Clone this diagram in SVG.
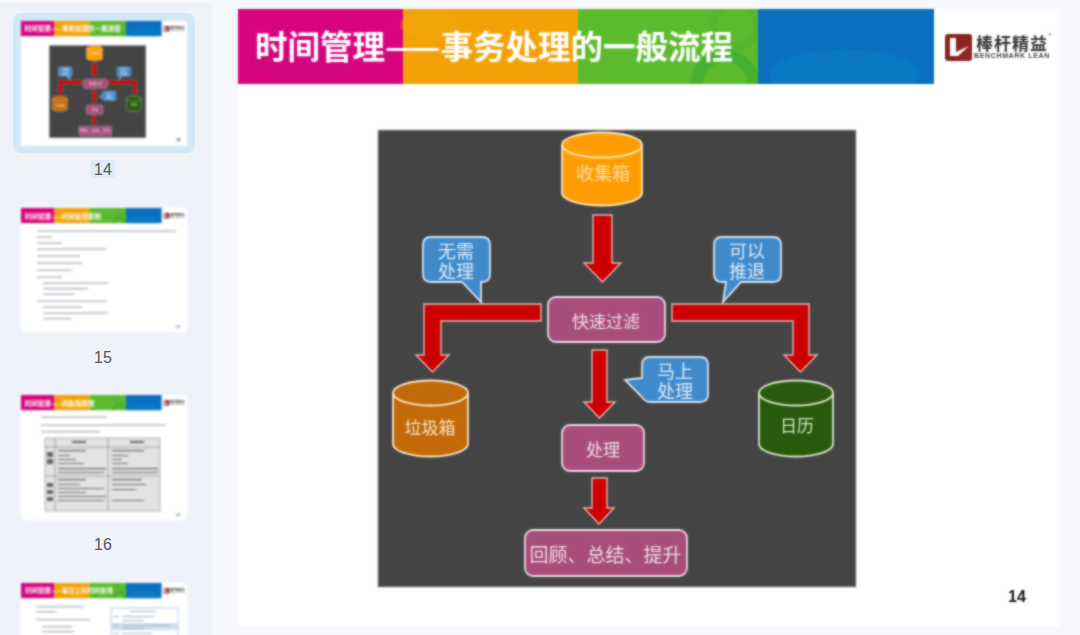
<svg xmlns="http://www.w3.org/2000/svg" width="1080" height="635" viewBox="0 0 1080 635">
<style>
text{font-family:"Noto Sans CJK SC","Noto Sans",sans-serif;text-anchor:middle;dominant-baseline:central}
.arrow{fill:#cc0000;stroke:#e6b4b4;stroke-width:1.4}
.box{fill:#a84c7c;stroke:#ead8e2;stroke-width:1.8}
.bub{fill:#3f8acb;stroke:#d6e4f0;stroke-width:1.8}
.nt{font-size:17px;fill:#efdde7}
.bt{font-size:18px;fill:#dfecf8}
.num{font-family:"Liberation Sans",Arial,sans-serif;font-size:16px;fill:#555}
.bar{fill:#a9adb6}
.ttl{fill:#fff;font-weight:700}
.sl{fill:#fff}
</style>
<defs>
<filter id="b1" x="-5%" y="-5%" width="110%" height="110%" color-interpolation-filters="sRGB"><feGaussianBlur in="SourceGraphic" stdDeviation="0.8" result="bl"/><feComposite in="bl" in2="SourceGraphic" operator="arithmetic" k1="0" k2="0.7" k3="0.3" k4="0"/></filter>
<filter id="b2" x="-5%" y="-5%" width="110%" height="110%" color-interpolation-filters="sRGB"><feGaussianBlur stdDeviation="0.8"/></filter>
<clipPath id="gc"><rect x="578" y="9" width="180" height="75"/></clipPath>
<clipPath id="bc"><rect x="758" y="9" width="176" height="75"/></clipPath>
<g id="hdr">
<rect x="238" y="9" width="165" height="75" fill="#d8047f"/>
<ellipse cx="300" cy="62" rx="50" ry="18" fill="#c9057d" opacity=".5"/>
<rect x="403" y="9" width="175" height="75" fill="#f2a206"/>
<ellipse cx="430" cy="25" rx="30" ry="14" fill="#f4a80c" opacity=".3"/>
<rect x="578" y="9" width="180" height="75" fill="#5cba2d"/>
<g clip-path="url(#gc)"><circle cx="735" cy="25" r="22" fill="none" stroke="#55b52d" stroke-width="9"/><circle cx="725" cy="84" r="28" fill="none" stroke="#45b032" stroke-width="12"/></g>
<rect x="758" y="9" width="176" height="75" fill="#0b6fc0"/>
<g clip-path="url(#bc)"><ellipse cx="845" cy="75" rx="75" ry="26" fill="#0a7cc4" opacity=".7"/></g>
</g>
<g id="logo">
<rect x="945" y="34" width="27" height="27" rx="3" fill="#8c2321"/>
<path d="M950 38H956V52L969 46L958 56H950Z" fill="#fff"/>
<text x="1012" y="42" style="font-size:17px;font-weight:700;letter-spacing:1px" fill="#333">棒杆精益</text>
<text x="1012" y="55.500" style="font-family:'Liberation Sans',sans-serif;font-size:7px;font-weight:700;letter-spacing:.65px" fill="#444">BENCHMARK LEAN</text>
<text x="1050" y="35" style="font-size:6px" fill="#666">®</text>
</g>
<g id="slide">
<rect class="sl" x="238" y="9" width="822" height="617"/>
<use href="#hdr"/>
<text class="ttl" x="494" y="44" style="font-size:32.500px">时间管理——事务处理的一般流程</text>
<use href="#logo"/>
<rect id="panel" x="378" y="130" width="478" height="457" fill="#444" stroke="#a9a9a9" stroke-width="1"/>
<g id="connectors">
<path class="arrow" d="M593 215H612V263H621L602.500 282L584 263H593Z"/>
<path class="arrow" d="M541 304H424V355H416L432.500 372L449 355H441V321H541Z"/>
<path class="arrow" d="M672 304H809V355H817L800.500 372L784 355H793V321H672Z"/>
<path class="arrow" d="M592 350H607V402H615L599.500 418L584 402H592Z"/>
<path class="arrow" d="M592 478H607V508H614L599 524L584 508H592Z"/>
</g>
<g id="node-inbox">
<path d="M562 145A40 12.500 0 0 1 642 145V193A40 12.500 0 0 1 562 193Z" fill="#ff9d00" stroke="#ffe8c2" stroke-width="1.800"/>
<path d="M562 145A40 12.500 0 0 0 642 145" fill="none" stroke="#ffe8c2" stroke-width="1.800"/>
<text x="603" y="172" style="font-size:18px;fill:#ffdca6">收集箱</text>
</g>
<g id="node-filter">
<rect class="box" x="548" y="297" width="117" height="45" rx="8"/>
<text class="nt" x="606" y="320">快速过滤</text>
</g>
<g id="node-trash">
<path d="M393 393A37.500 12.500 0 0 1 468 393V444A37.500 12.500 0 0 1 393 444Z" fill="#c26a08" stroke="#f6e6d0" stroke-width="1.800"/>
<path d="M393 393A37.500 12.500 0 0 0 468 393" fill="none" stroke="#f6e6d0" stroke-width="1.800"/>
<text x="430" y="426" style="font-size:17px;fill:#f7e4ca">垃圾箱</text>
</g>
<g id="node-calendar">
<path d="M759 393A37 12.500 0 0 1 833 393V444A37 12.500 0 0 1 759 444Z" fill="#275a0c" stroke="#d9e7ca" stroke-width="1.800"/>
<path d="M759 393A37 12.500 0 0 0 833 393" fill="none" stroke="#d9e7ca" stroke-width="1.800"/>
<text x="797" y="424" style="font-size:17px;fill:#d8e6ca">日历</text>
</g>
<g id="node-process">
<rect class="box" x="562" y="425" width="82" height="46" rx="8"/>
<text class="nt" x="603" y="448">处理</text>
</g>
<g id="node-review">
<rect class="box" x="525" y="530" width="162" height="46" rx="8"/>
<text class="nt" x="605.500" y="553" style="font-size:19px">回顾、总结、提升</text>
</g>
<g id="bubble-skip">
<path class="bub" d="M431 237H482Q490 237 490 245V274Q490 282 482 282H481V302L462 282H431Q423 282 423 274V245Q423 237 431 237Z"/>
<text class="bt" x="456" y="250">无需</text><text class="bt" x="456" y="270">处理</text>
</g>
<g id="bubble-defer">
<path class="bub" d="M722 237H773Q781 237 781 245V274Q781 282 773 282H741L723 302L726 282H722Q714 282 714 274V245Q714 237 722 237Z"/>
<text class="bt" x="747" y="250">可以</text><text class="bt" x="747" y="270">推退</text>
</g>
<g id="bubble-now">
<path class="bub" d="M650 357H700Q708 357 708 365V394Q708 402 700 402H650Q645 402 641 396L625 380L642 378V365Q642 357 650 357Z"/>
<text class="bt" x="675" y="370">马上</text><text class="bt" x="675" y="390">处理</text>
</g>
<text x="1017" y="596" style="font-family:'Liberation Sans',sans-serif;font-size:16px;font-weight:700" fill="#111">14</text>
</g>
</defs>
<rect id="bg" width="1080" height="635" fill="#f6f8fc"/>
<rect id="sidebar" width="212" height="635" fill="#eff3f9"/>
<rect x="0" y="0" width="212" height="3" fill="#f8f9fb"/>
<g id="main" filter="url(#b1)"><use href="#slide"/></g>
<g id="thumbs">
<rect x="13" y="13" width="182" height="140" rx="8" fill="#d2e8f6"/>
<rect x="91" y="160" width="24" height="18" rx="2" fill="#dfeaf6"/>
<text class="num" x="103" y="169">14</text>
<text class="num" x="103" y="357">15</text>
<text class="num" x="103" y="544">16</text>
<g id="thumb-14" filter="url(#b2)">
<use href="#slide" transform="translate(21 21) scale(.202) translate(-238 -9)"/>
</g>
<g id="thumb-15" filter="url(#b2)">
<rect class="sl" x="21" y="208" width="166" height="124" rx="4"/>
<use href="#hdr" transform="translate(21 208) scale(.202) translate(-238 -9)"/>
<use href="#logo" transform="translate(21 208) scale(.202) translate(-238 -9)"/>
<text class="ttl" x="63" y="215.500" style="font-size:6.500px">时间管理——时间安排原则</text>
<path class="bar" d="M37 230.500h139v1.200H37zM37 236.500h15v1.200H37zM37 242.500h25v1.200H37zM37 248.500h69v1.200H37zM37 255.500h43v1.200H37zM37 262.500h45v1.200H37zM37 269.500h35v1.200H37zM37 276.500h25v1.200H37zM43 282.500h65v1.200H43zM43 288h45v1.200H43zM43 293.500h31v1.200H43zM37 300.500h70v1.200H37zM43 306.500h39v1.200H43zM43 312.500h65v1.200H43zM43 318h28v1.200H43z"/>
<text x="178" y="326" style="font-size:3.500px" fill="#333">15</text>
</g>
<g id="thumb-16" filter="url(#b2)">
<rect class="sl" x="21" y="395" width="166" height="125" rx="4"/>
<use href="#hdr" transform="translate(21 395) scale(.202) translate(-238 -9)"/>
<use href="#logo" transform="translate(21 395) scale(.202) translate(-238 -9)"/>
<text class="ttl" x="59.500" y="402.500" style="font-size:6.500px">时间管理——四象限原理</text>
<path class="bar" d="M41 416.500h66v1.200H41zM41 424.500h125v1.200H41zM41 431h59v1.200H41z"/>
<rect x="45" y="438" width="115" height="73" fill="#e3e3e3" stroke="#8a8a8a" stroke-width=".6"/>
<path d="M55 438V511M108 438V511M45 447H160M45 476H160" stroke="#777" stroke-width=".6" fill="none"/>
<path d="M58 450h28v1.300H58zM58 455h12v1H58zM58 459h18v1H58zM58 463h26v1H58zM58 468h48v1.300H58zM58 472h46v1H58zM112 450h32v1.300h-32zM112 455h16v1h-16zM112 459h10v1h-10zM112 463h16v1h-16zM112 468h46v1.300h-46zM112 472h46v1h-46zM58 479h28v1.300H58zM58 484h22v1H58zM58 488h46v1H58zM58 492h28v1H58zM58 496h48v1H58zM58 500h46v1H58zM112 479h30v1.300h-30zM112 484h34v1h-34zM112 489h24v1h-24zM112 500h32v1h-32zM47 452h6v5h-6zM47 459h6v5h-6zM47 483h6v4h-6zM47 490h6v4h-6zM47 497h6v4h-6zM72 441h14v2H72zM130 441h14v2h-14z" fill="#666"/>
<text x="178" y="514" style="font-size:3.500px" fill="#333">16</text>
</g>
<g id="thumb-17" filter="url(#b2)">
<rect class="sl" x="21" y="583" width="166" height="60" rx="4"/>
<use href="#hdr" transform="translate(21 583) scale(.202) translate(-238 -9)"/>
<use href="#logo" transform="translate(21 583) scale(.202) translate(-238 -9)"/>
<text class="ttl" x="69" y="590.500" style="font-size:6.400px">时间管理——每日工作时间安排</text>
<path class="bar" d="M36 606h48v1.200H36zM36 611h20v1.200H36zM36 619h54v1.200H36zM42 626h30v1.200H42zM42 631h32v1.200H42z"/>
<rect x="111" y="608" width="67" height="30" fill="#fff" stroke="#8db3db" stroke-width=".7"/>
<rect x="111" y="623" width="67" height="7" fill="#cfe0f2"/>
<path class="bar" d="M130 611h26v1H130zM113 616h6v1h-6zM122 616h32v1h-32zM122 620h22v1h-22zM113 625h6v1h-6zM122 625h48v1h-48zM122 628h22v1h-22zM113 633h6v1h-6zM122 633h30v1h-30z"/>
</g>
</g>
</svg>
